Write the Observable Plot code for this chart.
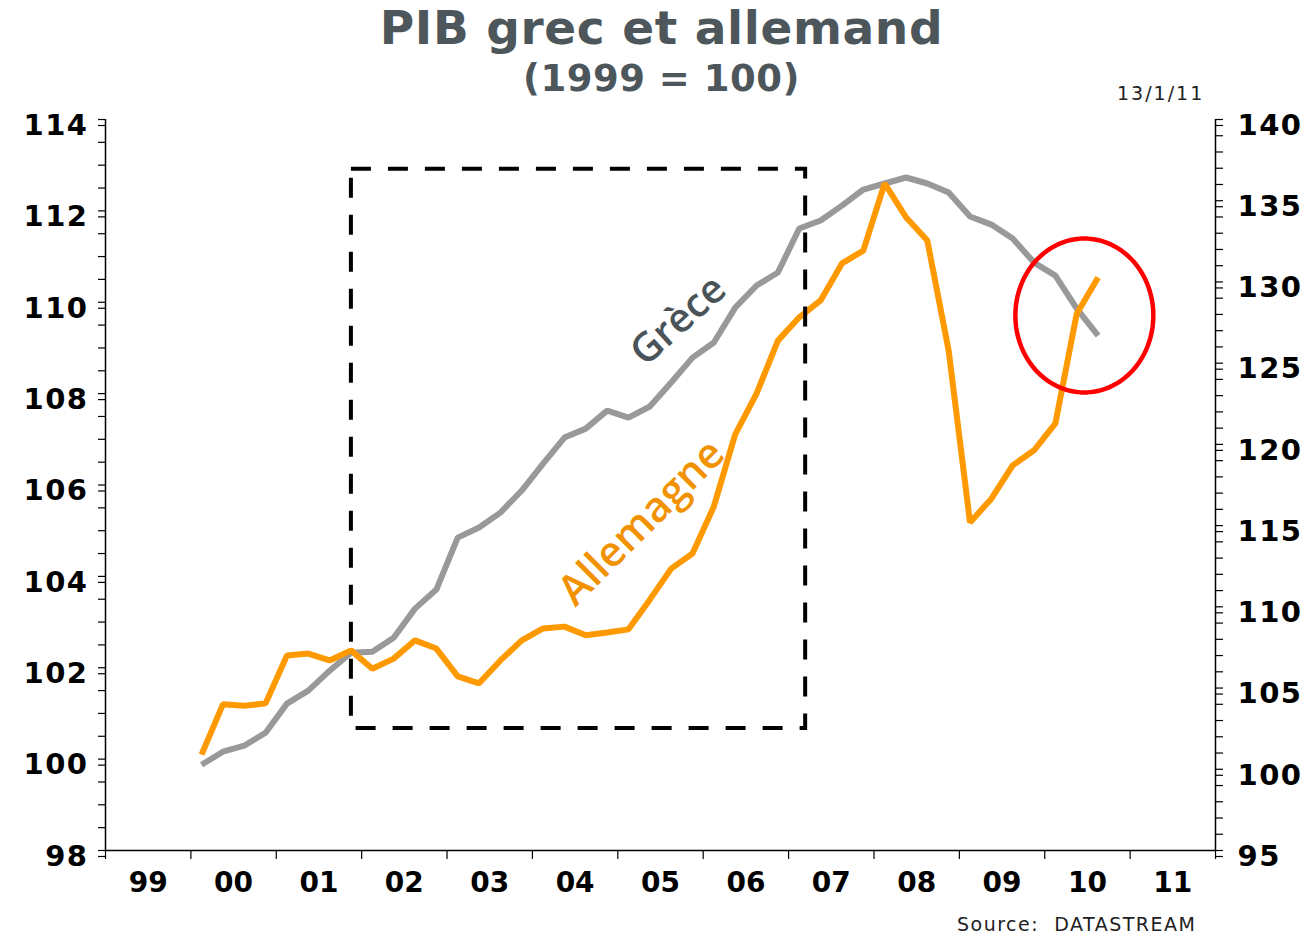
<!DOCTYPE html>
<html>
<head>
<meta charset="utf-8">
<script src="https://cdn.jsdelivr.net/npm/d3@7"></script>
<script src="https://cdn.jsdelivr.net/npm/@observablehq/plot@0.6"></script>
<style>
  body { margin: 0; background: #fff; }
  #wrap { position: relative; width: 1311px; height: 937px; background: #fff; font-family: "DejaVu Sans", Verdana, sans-serif; }
  .abs { position: absolute; white-space: pre; line-height: 1; }
  #chart svg g[aria-label="y-axis tick label"] text { letter-spacing: 1.5px; }
</style>
</head>
<body>
<div id="wrap">
  <div class="abs" style="left:6px;width:1311px;top:4px;text-align:center;font-size:47px;font-weight:bold;color:#4d565b;letter-spacing:0.6px;">PIB grec et allemand</div>
  <div class="abs" style="left:6px;width:1311px;top:60px;text-align:center;font-size:37px;font-weight:bold;color:#4d565b;letter-spacing:0.5px;">(1999 = 100)</div>
  <div class="abs" style="left:1117px;top:84px;font-size:19px;color:#222;letter-spacing:2px;">13/1/11</div>
  <div id="chart" class="abs" style="left:0;top:100px;"></div>
  <div class="abs" style="left:957px;top:915px;font-size:19px;color:#222;letter-spacing:1.5px;">Source:  DATASTREAM</div>
</div>
<script>
// Quarterly data, 2000 Q1 to 2010 Q3
const startYear = 2000;
const germany = [100.10, 101.20, 101.17, 101.22, 102.27, 102.31, 102.16, 102.38,
  101.98, 102.20, 102.60, 102.42, 101.81, 101.66, 102.16, 102.60,
  102.86, 102.90, 102.71, 102.77, 102.84, 103.49, 104.17, 104.50,
  105.53, 107.11, 108.00, 109.16, 109.67, 110.04, 110.85, 111.13,
  112.60, 111.86, 111.35, 108.94, 105.18, 105.70, 106.43, 106.76,
  107.35, 109.75, 110.54];
const greece = [100.28, 101.08, 101.45, 102.25, 104.04, 104.84, 106.07, 107.18,
  107.24, 108.10, 109.89, 111.06, 114.26, 114.88, 115.80, 117.16,
  118.82, 120.42, 120.97, 122.08, 121.65, 122.33, 123.81, 125.34,
  126.27, 128.42, 129.78, 130.58, 133.29, 133.78, 134.70, 135.69,
  136.06, 136.43, 136.06, 135.50, 134.03, 133.53, 132.67, 131.19,
  130.39, 128.36, 126.70];

const xTickLabels = ["99","00","01","02","03","04","05","06","07","08","09","10","11"];
const leftTicks = [98, 100, 102, 104, 106, 108, 110, 112, 114];
const rightTicks = [95, 100, 105, 110, 115, 120, 125, 130, 135, 140];

// annotations (data coordinates)
const box = [{x1: 2001.88, x2: 2007.20, y1: 100.67, y2: 112.91}];
const seriesLabels = [
  {x: 2005.71, y: 109.60, text: "Grèce", color: "#4a5358", angle: -42},
  {x: 2005.28, y: 105.18, text: "Allemagne", color: "#f29200", angle: -45}
];
const circle = {cx: 2010.464, cy: 109.71, rx: 0.808, ry: 1.685};

// right axis (Greece) mapped onto left scale
const toLeft = r => 98 + (r - 95) * 16 / 45;
const toRight = l => 95 + (l - 98) * 45 / 16;

const quarterX = i => startYear + 0.125 + 0.25 * i;
const deData = germany.map((v, i) => ({x: quarterX(i), y: v}));
const grData = greece.map((v, i) => ({x: quarterX(i), y: toLeft(v)}));
const ellipse = d3.range(0, 361, 3).map(a => ({
  x: circle.cx + circle.rx * Math.cos(a * Math.PI / 180),
  y: circle.cy + circle.ry * Math.sin(a * Math.PI / 180)
}));

const axisFont = {fontSize: 29, fontWeight: "bold", fontFamily: "DejaVu Sans, Verdana, sans-serif"};

const chart = Plot.plot({
  width: 1311,
  height: 800,
  marginLeft: 105,
  marginRight: 96,
  marginTop: 19,
  marginBottom: 50,
  x: {domain: [1999, 2012]},
  y: {domain: [98, 114]},
  style: {fontFamily: "DejaVu Sans, Verdana, sans-serif", fontWeight: "bold", fontSize: "28px", color: "#000", background: "transparent"},
  marks: [
    // minor ticks
    Plot.axisY({anchor: "left", ticks: d3.range(98, 114.01, 0.5), tickSize: 7, tickFormat: () => "", label: null, strokeWidth: 1.2}),
    Plot.axisY({anchor: "right", ticks: d3.range(95, 140.01, 1).map(toLeft), tickSize: 7, tickFormat: () => "", label: null, strokeWidth: 1.2}),
    // major labels
    Plot.axisY({anchor: "left", ticks: leftTicks, tickSize: 7, tickPadding: 10, dy: 6, label: null, ...axisFont, strokeWidth: 1.2}),
    Plot.axisY({anchor: "right", ticks: rightTicks.map(toLeft), tickFormat: d => String(Math.round(toRight(d))), tickSize: 7, tickPadding: 15, dy: 6, label: null, ...axisFont, strokeWidth: 1.2}),
    Plot.axisX({ticks: d3.range(1999, 2012.01, 1), tickSize: 9, tickFormat: () => "", label: null, strokeWidth: 1.2}),
    Plot.axisX({ticks: d3.range(1999.5, 2011.6, 1), tickSize: 0, tickPadding: 22, tickFormat: (d, i) => xTickLabels[i], label: null, fontSize: 28, fontWeight: "bold"}),
    Plot.ruleX([1999, 2012], {stroke: "#000", strokeWidth: 1.5}),
    Plot.ruleY([98], {stroke: "#000", strokeWidth: 1.5}),
    // series
    Plot.line(grData, {x: "x", y: "y", stroke: "#999999", strokeWidth: 6, strokeLinejoin: "miter", strokeLinecap: "butt"}),
    Plot.line(deData, {x: "x", y: "y", stroke: "#ff9900", strokeWidth: 6, strokeLinejoin: "miter", strokeLinecap: "butt"}),
    // labels
    Plot.text(seriesLabels, {x: "x", y: "y", text: "text", fill: d => d.color, rotate: d => d.angle, fontSize: d => d.text === "Grèce" ? 40 : 42, fontWeight: 600, fontFamily: "Open Sans, sans-serif"}),
    // dashed box
    Plot.rect(box, {x1: "x1", x2: "x2", y1: "y1", y2: "y2", fill: "none", stroke: "#000", strokeWidth: 4, strokeDasharray: "20,17"}),
    // red circle
    Plot.line(ellipse, {x: "x", y: "y", stroke: "#ff0000", strokeWidth: 4.5, curve: "linear"})
  ]
});
document.getElementById("chart").appendChild(chart);
</script>
</body>
</html>
